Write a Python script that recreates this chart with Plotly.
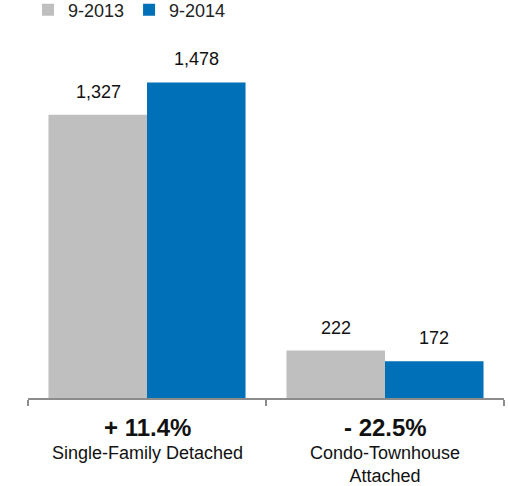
import plotly.graph_objects as go

categories = ["Single-Family Detached", "Condo-Townhouse Attached"]
cat_labels = ["Single-Family Detached", "Condo-Townhouse<br>Attached"]
changes = ["+ 11.4%", "- 22.5%"]
series_names = ["9-2013", "9-2014"]
values_2013 = [1327, 222]
values_2014 = [1478, 172]
colors = ["#BFBFBF", "#0070B8"]

FONT = "Liberation Sans, Arial, Helvetica, sans-serif"

fig = go.Figure()
for name, vals, col in zip(series_names, [values_2013, values_2014], colors):
    fig.add_trace(go.Bar(
        x=categories, y=vals, name=name,
        marker=dict(color=col, line=dict(width=0)),
    ))

annotations = []
# value labels above bars
for vals, shift in [(values_2013, -49), (values_2014, 49)]:
    for c, v in zip(categories, vals):
        annotations.append(dict(
            x=c, y=v, xref="x", yref="y", text=f"{v:,}", showarrow=False,
            xshift=shift, yshift=11, yanchor="bottom",
            font=dict(family=FONT, size=18, color="#111111"),
        ))
# category labels below axis
for c, ch, lab in zip(categories, changes, cat_labels):
    annotations.append(dict(
        x=c, y=0, xref="x", yref="y", text=f"<b>{ch}</b>", showarrow=False,
        yshift=-14, yanchor="top",
        font=dict(family=FONT, size=24, color="#111111"),
    ))
    annotations.append(dict(
        x=c, y=0, xref="x", yref="y", text=lab, showarrow=False,
        yshift=-43, yanchor="top",
        font=dict(family=FONT, size=18, color="#111111"),
    ))

fig.update_layout(
    width=508, height=486,
    margin=dict(l=28, r=4, t=35, b=88),
    paper_bgcolor="white", plot_bgcolor="white",
    barmode="group", bargap=0.172, bargroupgap=0,
    font=dict(family=FONT, size=18, color="#222222"),
    showlegend=True,
    legend=dict(orientation="h", x=28 / 508, y=1 - 10 / 486, xref="container", yref="container",
                xanchor="left", yanchor="middle",
                font=dict(family=FONT, size=18, color="#222222"),
                itemwidth=30, traceorder="normal"),
    annotations=annotations,
)
fig.update_xaxes(
    showticklabels=False, showline=True, linecolor="#8C8C8C", linewidth=2,
    ticks="outside", tickson="boundaries", ticklen=6, tickcolor="#8C8C8C", tickwidth=2,
    showgrid=False, zeroline=False,
)
fig.update_yaxes(
    range=[0, 1700], visible=False, showgrid=False, zeroline=False,
)

fig.write_html("out.html")
